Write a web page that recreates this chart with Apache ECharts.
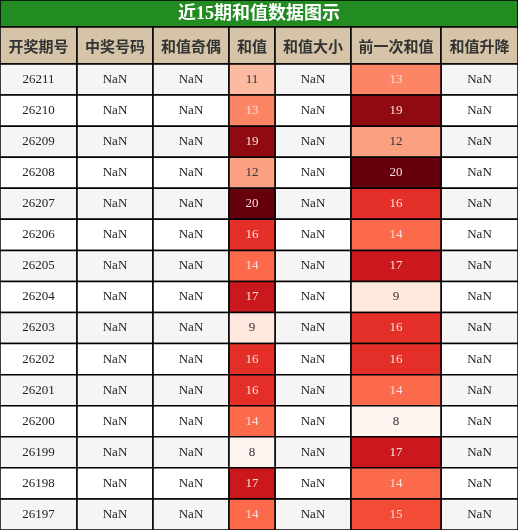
<!DOCTYPE html><html><head><meta charset="utf-8">
<script src="https://cdn.jsdelivr.net/npm/echarts@6/dist/echarts.min.js"></script>
<style>html,body{margin:0;padding:0;background:#fff}#c{width:518px;height:530px}</style></head><body><div id="c"></div>
<script>
const headers=['开奖期号','中奖号码','和值奇偶','和值','和值大小','前一次和值','和值升降'];
const periods=['26211','26210','26209','26208','26207','26206','26205','26204','26203','26202','26201','26200','26199','26198','26197'];
const numbers=['5,1,5','0,9,4','9,8,2','4,7,1','8,6,6','7,0,9','8,0,6','6,7,4','1,3,5','9,6,1','8,6,2','0,7,7','3,0,5','7,1,9','4,7,3'];
const oddEven=['奇','奇','奇','偶','偶','偶','偶','奇','奇','偶','偶','偶','偶','奇','偶'];
const sums=[11,13,19,12,20,16,14,17,9,16,16,14,8,17,14];
const bigSmall=['小','小','大','小','大','大','大','大','小','大','大','大','小','大','大'];
const prevSums=[13,19,12,20,16,14,17,9,16,16,14,8,17,14,15];
const trend=['下降','下降','上升','下降','上升','上升','下降','上升','下降','下降','上升','上升','下降','上升','下降'];
const widths=[77,76,76,46,76,90,77];
const starts=[];let acc=0;widths.forEach(w=>{starts.push(acc);acc+=w;});
const FONT='"Liberation Serif","Noto Sans CJK SC",serif';
const plain=[],heat=[];
periods.forEach((p,i)=>{
  [[0,p],[1,numbers[i]],[2,oddEven[i]],[4,bigSmall[i]],[6,trend[i]]].forEach(([c,t])=>plain.push([c,i,t]));
  heat.push([3,i,sums[i],sums[i]]);heat.push([5,i,prevSums[i],prevSums[i]]);
});
function cell(params,api,fill,txtColor){
  const c=api.value(0),r=api.value(1);
  const p0=api.coord([starts[c],r]);const p1=api.coord([starts[c]+widths[c],r]);
  const h=api.size([0,1])[1];
  return {type:'group',children:[
    {type:'rect',shape:{x:p0[0],y:p0[1]-h/2,width:p1[0]-p0[0],height:h},style:{fill:fill,stroke:'#000',lineWidth:1.5}},
    {type:'text',style:{x:(p0[0]+p1[0])/2,y:p0[1],text:String(api.value(2)),fill:txtColor,font:'13px '+FONT,align:'center',verticalAlign:'middle'}}
  ]};
}
const graphics=[{type:'rect',shape:{x:0,y:0,width:518,height:27},style:{fill:'#228B22',stroke:'#000',lineWidth:1.5}},
 {type:'text',style:{x:259,y:14,text:'近15期和值数据图示',fill:'#fff',font:'bold 18px '+FONT,align:'center',verticalAlign:'middle'}}];
headers.forEach((h,c)=>{
  graphics.push({type:'rect',shape:{x:starts[c],y:27,width:widths[c],height:37},style:{fill:'#D5C4A8',stroke:'#000',lineWidth:1.5}});
  graphics.push({type:'text',style:{x:starts[c]+widths[c]/2,y:46,text:h,fill:'#333',font:'bold 15px "Noto Sans CJK SC",sans-serif',align:'center',verticalAlign:'middle'}});
});
const chart=echarts.init(document.getElementById('c'));
chart.setOption({animation:false,
 grid:{left:0,right:0,top:64,bottom:0},
 xAxis:{type:'value',min:0,max:518,show:false},
 yAxis:{type:'category',data:periods,inverse:true,show:false},
 visualMap:{show:false,seriesIndex:1,dimension:3,min:8,max:20,
   inRange:{color:['#fff5f0','#fee0d2','#fcbba1','#fc9272','#fb6a4a','#ef3b2c','#cb181d','#a50f15','#67000d']}},
 graphic:graphics,
 series:[
  {type:'custom',data:plain,renderItem:(p,api)=>cell(p,api,api.value(1)%2===0?'#f5f5f5':'#fff','#222')},
  {type:'custom',data:heat,renderItem:(p,api)=>cell(p,api,api.visual('color'),api.value(3)>=13?'#fde0dd':'#333')}
 ]});
</script></body></html>
